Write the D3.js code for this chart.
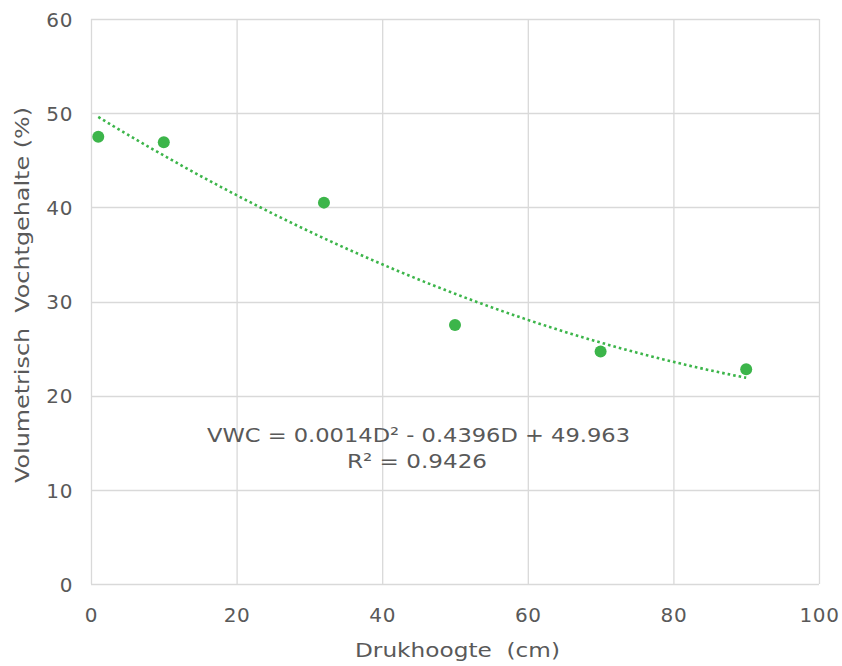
<!DOCTYPE html>
<html><head><meta charset="utf-8">
<script src="https://cdn.jsdelivr.net/npm/d3@7"></script>
<style>body{margin:0;background:#fff}svg{display:block}text{font-family:"DejaVu Sans",Verdana,sans-serif;fill:#595959}</style>
</head><body>
<svg id="c" width="842" height="666"></svg>
<script>
const drukhoogte = [1, 10, 32, 50, 70, 90];
const vwc = [47.5, 46.9, 40.5, 27.5, 24.7, 22.8];
// coefficients (a, b, c) of the dotted trend curve
const trendCoeffs = [0.0018, -0.475, 50.07];
const xTicks = [0, 20, 40, 60, 80, 100];
const yTicks = [0, 10, 20, 30, 40, 50, 60];
const eqLabel = "VWC = 0.0014D² - 0.4396D + 49.963";
const r2Label = "R² = 0.9426";
const xTitle = "Drukhoogte  (cm)";
const yTitle = "Volumetrisch  Vochtgehalte (%)";

const svg = d3.select("#c");
const m = {l: 91, r: 819, t: 19, b: 584};
const x = d3.scaleLinear().domain([0, 100]).range([m.l, m.r]);
const y = d3.scaleLinear().domain([0, 60]).range([m.b, m.t]);
const green = "#3cb54a", grid = "#d9d9d9";
const FS = 20;

// grid
svg.append("g").selectAll("line").data(xTicks).join("line")
  .attr("x1", d => x(d) + 0.5).attr("x2", d => x(d) + 0.5)
  .attr("y1", m.t).attr("y2", m.b).attr("stroke", grid).attr("stroke-width", 1.3);
svg.append("g").selectAll("line").data(yTicks).join("line")
  .attr("y1", d => Math.round(y(d)) + 0.5).attr("y2", d => Math.round(y(d)) + 0.5)
  .attr("x1", m.l).attr("x2", m.r).attr("stroke", grid).attr("stroke-width", 1.3);

// axes labels via d3 axes
const xAxis = svg.append("g").attr("transform", `translate(0,${m.b})`)
  .call(d3.axisBottom(x).tickValues(xTicks).tickSize(0).tickPadding(0));
const yAxis = svg.append("g").attr("transform", `translate(${m.l},0)`)
  .call(d3.axisLeft(y).tickValues(yTicks).tickSize(0).tickPadding(18));
[xAxis, yAxis].forEach(g => {
  g.select(".domain").remove();
  g.selectAll("text").attr("font-size", FS).attr("fill", "#595959")
    .attr("font-family", '"DejaVu Sans",Verdana,sans-serif')
    .attr("letter-spacing", 0.6);
});
xAxis.selectAll("text").attr("dy", null).attr("y", 38);
yAxis.selectAll("text").attr("dy", "0.36em");

// trendline
const a = trendCoeffs[0], b = trendCoeffs[1], c = trendCoeffs[2];
const xs = d3.range(drukhoogte[0], drukhoogte[drukhoogte.length - 1] + 0.001, 0.5);
svg.append("path")
  .datum(xs)
  .attr("d", d3.line().x(d => x(d)).y(d => y(a * d * d + b * d + c)))
  .attr("fill", "none").attr("stroke", green).attr("stroke-width", 2.6)
  .attr("stroke-dasharray", "2.6 3");

// points
svg.append("g").selectAll("circle").data(drukhoogte).join("circle")
  .attr("cx", d => x(d)).attr("cy", (d, i) => y(vwc[i])).attr("r", 6)
  .attr("fill", green);

// equation
svg.append("text").attr("x", 418.5).attr("y", 442).attr("text-anchor", "middle")
  .attr("font-size", FS).attr("textLength", 423).attr("lengthAdjust", "spacingAndGlyphs").text(eqLabel);
svg.append("text").attr("x", 417).attr("y", 468).attr("text-anchor", "middle")
  .attr("font-size", FS).attr("textLength", 140).attr("lengthAdjust", "spacingAndGlyphs").text(r2Label);

// titles
svg.append("text").attr("x", 457.5).attr("y", 657).attr("text-anchor", "middle")
  .attr("font-size", FS).style("white-space", "pre")
  .attr("textLength", 205).attr("lengthAdjust", "spacingAndGlyphs").text(xTitle);
svg.append("text").attr("transform", "translate(29,295) rotate(-90)").attr("text-anchor", "middle")
  .attr("font-size", FS).style("white-space", "pre")
  .attr("textLength", 376).attr("lengthAdjust", "spacingAndGlyphs").text(yTitle);
</script>
</body></html>
